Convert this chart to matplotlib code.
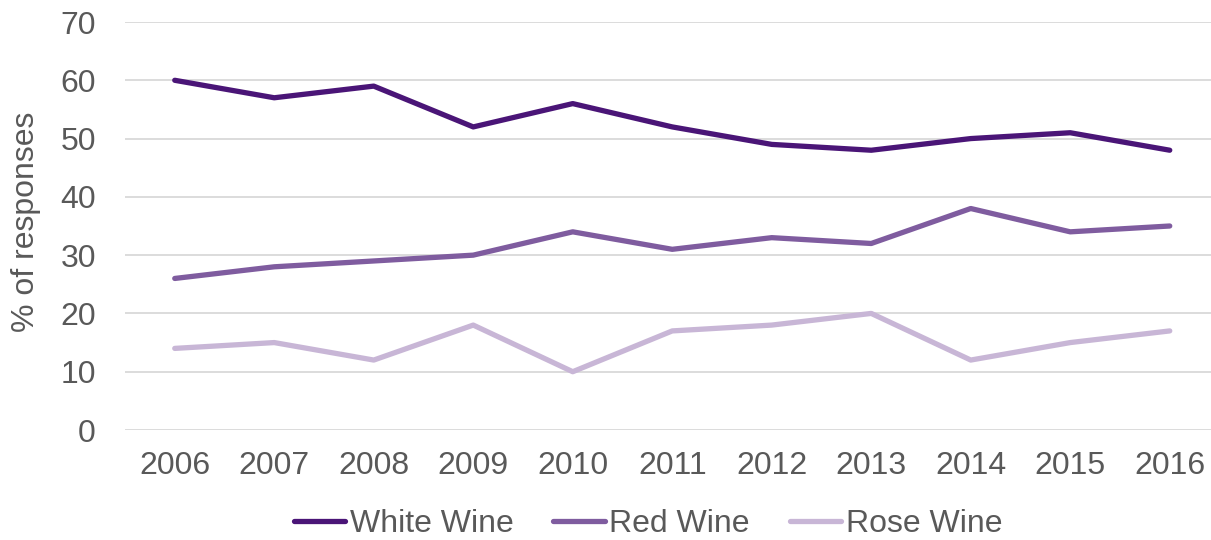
import matplotlib
matplotlib.use('Agg')
import matplotlib.pyplot as plt

years = ['2006', '2007', '2008', '2009', '2010', '2011', '2012', '2013', '2014', '2015', '2016']
white_wine = [60, 57, 59, 52, 56, 52, 49, 48, 50, 51, 48]
red_wine = [26, 28, 29, 30, 34, 31, 33, 32, 38, 34, 35]
rose_wine = [14, 15, 12, 18, 10, 17, 18, 20, 12, 15, 17]

plt.rcParams['font.family'] = ['Liberation Sans', 'DejaVu Sans']
gray = '#595959'
fs = 23

W, H = 1211, 540
fig = plt.figure(figsize=(W / 100, H / 100), dpi=100)
# plot area in pixels: x 125..1220, y 22..430
ax = fig.add_axes([125 / W, 1 - 430 / H, (1219.5 - 125) / W, (430 - 22) / H])

x = range(len(years))
ax.plot(x, white_wine, color='#4a1577', lw=3.8, label='White Wine', solid_capstyle='round')
ax.plot(x, red_wine, color='#7f5c9f', lw=3.8, label='Red Wine', solid_capstyle='round')
ax.plot(x, rose_wine, color='#c8b6d6', lw=3.8, label='Rose Wine', solid_capstyle='round')

ax.set_xlim(-0.5, len(years) - 0.5)
ax.set_ylim(0, 70)
ax.set_yticks(range(0, 71, 10))
ax.set_xticks(list(x))
ax.set_xticklabels(years)
ax.grid(axis='y', color='#d9d9d9', lw=1.3)
ax.set_axisbelow(True)
for s in ax.spines.values():
    s.set_visible(False)
ax.tick_params(length=0, labelsize=fs, labelcolor=gray)
ax.tick_params(axis='y', pad=21)
ax.tick_params(axis='x', pad=15)

fig.text(26 / W, 1 - 222 / H, '% of responses', rotation=90, ha='center', va='center',
         fontsize=fs, color=gray)

leg = fig.legend(loc='center', bbox_to_anchor=(648 / W, 1 - 524 / H), ncol=3, frameon=False,
                 fontsize=fs, handlelength=1.6, handletextpad=0.15, columnspacing=1.25,
                 borderpad=0, borderaxespad=0)
for t in leg.get_texts():
    t.set_color(gray)

fig.savefig('out.png', dpi=100)
